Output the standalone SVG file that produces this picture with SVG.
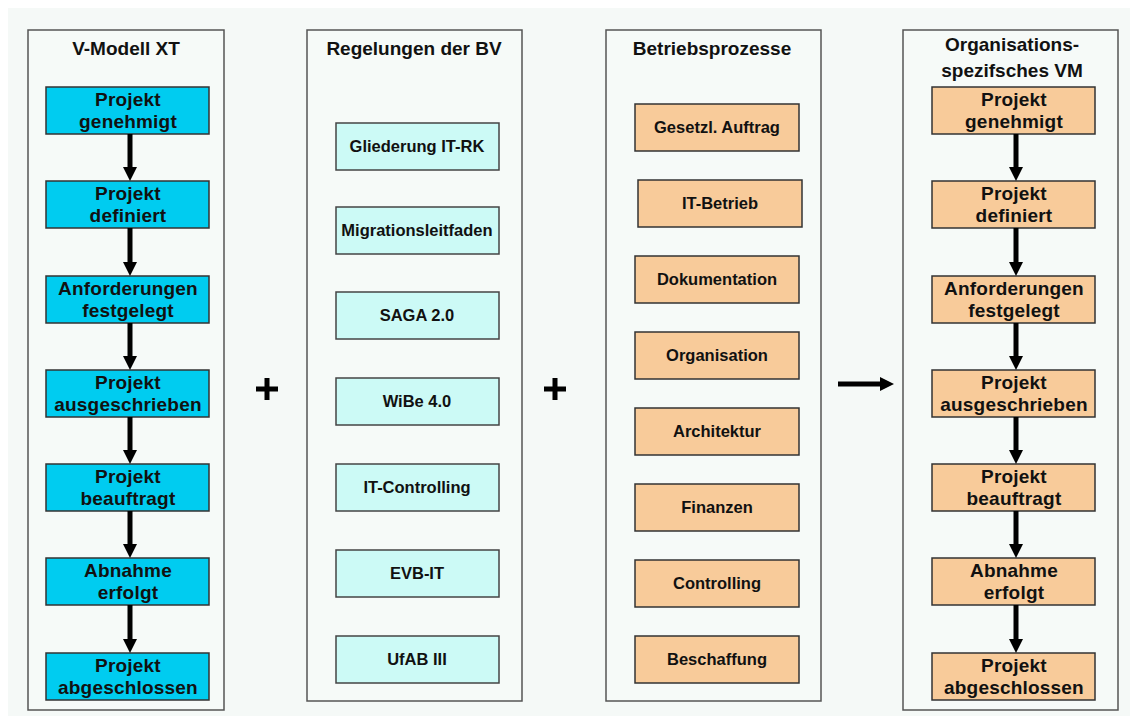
<svg xmlns="http://www.w3.org/2000/svg" width="1134" height="716" viewBox="0 0 1134 716">
<style>
.bg{fill:#f5f9f7}
.panel{fill:#f6faf8;stroke:#555;stroke-width:1.5}
.title{font-family:"Liberation Sans",Arial,sans-serif;font-weight:bold;font-size:19px;fill:#111;text-anchor:middle}
.t18{font-family:"Liberation Sans",Arial,sans-serif;font-weight:bold;font-size:19px;letter-spacing:0.2px;fill:#111;text-anchor:middle}
.t16{font-family:"Liberation Sans",Arial,sans-serif;font-weight:bold;font-size:16.5px;fill:#111;text-anchor:middle}
.blue{fill:#00ccf0;stroke:#333;stroke-width:1.5}
.cyan{fill:#ccfaf6;stroke:#444;stroke-width:1.5}
.peach{fill:#f8cb9a;stroke:#333;stroke-width:1.5}
.arr{stroke:#000;stroke-width:5;fill:none;marker-end:url(#ah)}
.sym{fill:#000}
</style>
<defs>
<marker id="ah" viewBox="0 0 14 14" markerWidth="14" markerHeight="14" refX="0" refY="7" orient="auto" markerUnits="userSpaceOnUse">
<path d="M0,0 L14,7 L0,14 z" fill="#000"/>
</marker>
</defs>
<rect x="0" y="0" width="1134" height="716" fill="#ffffff"/>
<rect class="bg" x="8" y="8" width="1122" height="708"/>

<!-- Panels -->
<g id="panel-vmodell">
<rect class="panel" x="28" y="30" width="196" height="680"/>
<text class="title" x="126" y="55">V-Modell XT</text>
</g>
<g id="panel-regelungen">
<rect class="panel" x="307" y="30" width="215" height="671"/>
<text class="title" x="414" y="55">Regelungen der BV</text>
</g>
<g id="panel-betrieb">
<rect class="panel" x="606" y="30" width="215" height="671"/>
<text class="title" x="712" y="55">Betriebsprozesse</text>
</g>
<g id="panel-orgvm">
<rect class="panel" x="903" y="30" width="215" height="680"/>
<text class="title" x="1012" y="51">Organisations-</text>
<text class="title" x="1012" y="77">spezifsches VM</text>
</g>

<!-- Column 1 nodes -->
<g id="v1"><rect class="blue" x="46" y="87" width="163" height="47"/><text class="t18" x="128" y="106">Projekt</text><text class="t18" x="128" y="128">genehmigt</text></g>
<g id="v2"><rect class="blue" x="46" y="181" width="163" height="47"/><text class="t18" x="128" y="200">Projekt</text><text class="t18" x="128" y="222">definiert</text></g>
<g id="v3"><rect class="blue" x="46" y="276" width="163" height="47"/><text class="t18" x="128" y="295">Anforderungen</text><text class="t18" x="128" y="317">festgelegt</text></g>
<g id="v4"><rect class="blue" x="46" y="370" width="163" height="47"/><text class="t18" x="128" y="389">Projekt</text><text class="t18" x="128" y="411">ausgeschrieben</text></g>
<g id="v5"><rect class="blue" x="46" y="464" width="163" height="47"/><text class="t18" x="128" y="483">Projekt</text><text class="t18" x="128" y="505">beauftragt</text></g>
<g id="v6"><rect class="blue" x="46" y="558" width="163" height="47"/><text class="t18" x="128" y="577">Abnahme</text><text class="t18" x="128" y="599">erfolgt</text></g>
<g id="v7"><rect class="blue" x="46" y="653" width="163" height="47"/><text class="t18" x="128" y="672">Projekt</text><text class="t18" x="128" y="694">abgeschlossen</text></g>

<!-- Column 2 nodes -->
<g id="r1"><rect class="cyan" x="336" y="123" width="163" height="47"/><text class="t16" x="417" y="152">Gliederung IT-RK</text></g>
<g id="r2"><rect class="cyan" x="336" y="207" width="163" height="47"/><text class="t16" x="417" y="236">Migrationsleitfaden</text></g>
<g id="r3"><rect class="cyan" x="336" y="292" width="163" height="47"/><text class="t16" x="417" y="321">SAGA 2.0</text></g>
<g id="r4"><rect class="cyan" x="336" y="378" width="163" height="47"/><text class="t16" x="417" y="407">WiBe 4.0</text></g>
<g id="r5"><rect class="cyan" x="336" y="464" width="163" height="47"/><text class="t16" x="417" y="493">IT-Controlling</text></g>
<g id="r6"><rect class="cyan" x="336" y="550" width="163" height="47"/><text class="t16" x="417" y="579">EVB-IT</text></g>
<g id="r7"><rect class="cyan" x="336" y="636" width="163" height="47"/><text class="t16" x="417" y="665">UfAB III</text></g>

<!-- Column 3 nodes -->
<g id="b1"><rect class="peach" x="635" y="104" width="164" height="47"/><text class="t16" x="717" y="133">Gesetzl. Auftrag</text></g>
<g id="b2"><rect class="peach" x="638" y="180" width="164" height="47"/><text class="t16" x="720" y="209">IT-Betrieb</text></g>
<g id="b3"><rect class="peach" x="635" y="256" width="164" height="47"/><text class="t16" x="717" y="285">Dokumentation</text></g>
<g id="b4"><rect class="peach" x="635" y="332" width="164" height="47"/><text class="t16" x="717" y="361">Organisation</text></g>
<g id="b5"><rect class="peach" x="635" y="408" width="164" height="47"/><text class="t16" x="717" y="437">Architektur</text></g>
<g id="b6"><rect class="peach" x="635" y="484" width="164" height="47"/><text class="t16" x="717" y="513">Finanzen</text></g>
<g id="b7"><rect class="peach" x="635" y="560" width="164" height="47"/><text class="t16" x="717" y="589">Controlling</text></g>
<g id="b8"><rect class="peach" x="635" y="636" width="164" height="47"/><text class="t16" x="717" y="665">Beschaffung</text></g>

<!-- Column 4 nodes -->
<g id="o1"><rect class="peach" x="932" y="87" width="163" height="47"/><text class="t18" x="1014" y="106">Projekt</text><text class="t18" x="1014" y="128">genehmigt</text></g>
<g id="o2"><rect class="peach" x="932" y="181" width="163" height="47"/><text class="t18" x="1014" y="200">Projekt</text><text class="t18" x="1014" y="222">definiert</text></g>
<g id="o3"><rect class="peach" x="932" y="276" width="163" height="47"/><text class="t18" x="1014" y="295">Anforderungen</text><text class="t18" x="1014" y="317">festgelegt</text></g>
<g id="o4"><rect class="peach" x="932" y="370" width="163" height="47"/><text class="t18" x="1014" y="389">Projekt</text><text class="t18" x="1014" y="411">ausgeschrieben</text></g>
<g id="o5"><rect class="peach" x="932" y="464" width="163" height="47"/><text class="t18" x="1014" y="483">Projekt</text><text class="t18" x="1014" y="505">beauftragt</text></g>
<g id="o6"><rect class="peach" x="932" y="558" width="163" height="47"/><text class="t18" x="1014" y="577">Abnahme</text><text class="t18" x="1014" y="599">erfolgt</text></g>
<g id="o7"><rect class="peach" x="932" y="653" width="163" height="47"/><text class="t18" x="1014" y="672">Projekt</text><text class="t18" x="1014" y="694">abgeschlossen</text></g>

<!-- Plus signs -->
<g id="plus1"><rect class="sym" x="256" y="386.5" width="22" height="5"/><rect class="sym" x="264.5" y="378" width="5" height="22"/></g>
<g id="plus2"><rect class="sym" x="544" y="386.5" width="22" height="5"/><rect class="sym" x="552.5" y="378" width="5" height="22"/></g>

<!-- Connectors -->
<g id="connectors">
<line class="arr" x1="130" y1="134" x2="130" y2="167"/>
<line class="arr" x1="130" y1="228" x2="130" y2="262"/>
<line class="arr" x1="130" y1="323" x2="130" y2="356"/>
<line class="arr" x1="130" y1="417" x2="130" y2="450"/>
<line class="arr" x1="130" y1="511" x2="130" y2="544"/>
<line class="arr" x1="130" y1="605" x2="130" y2="639"/>
<line class="arr" x1="1016" y1="134" x2="1016" y2="167"/>
<line class="arr" x1="1016" y1="228" x2="1016" y2="262"/>
<line class="arr" x1="1016" y1="323" x2="1016" y2="356"/>
<line class="arr" x1="1016" y1="417" x2="1016" y2="450"/>
<line class="arr" x1="1016" y1="511" x2="1016" y2="544"/>
<line class="arr" x1="1016" y1="605" x2="1016" y2="639"/>
<line class="arr" x1="838" y1="384" x2="880" y2="384"/>
</g>
</svg>
